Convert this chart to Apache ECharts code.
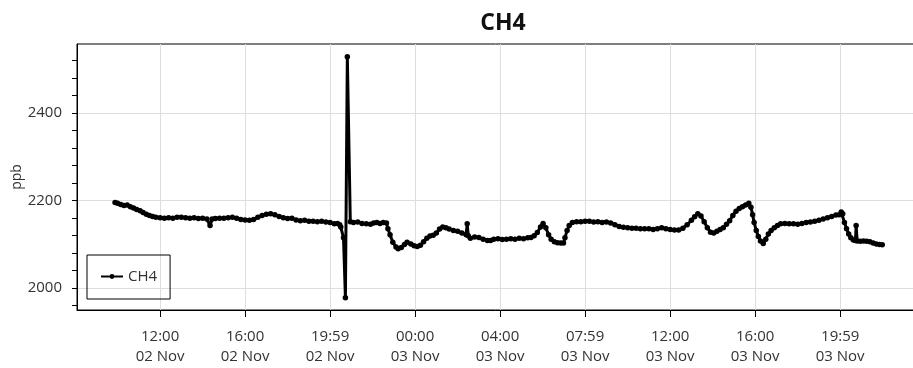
<!DOCTYPE html>
<html>
<head>
<meta charset="utf-8">
<title>CH4</title>
<script src="https://cdn.jsdelivr.net/npm/echarts@6/dist/echarts.min.js"></script>
<style>
  html, body { margin: 0; padding: 0; background: #fff; }
  #chart { width: 913px; height: 368px; }
</style>
</head>
<body>
<div id="chart"></div>
<script>
// Sample times, hours counted from 02 Nov 00:00
const hours = [
  9.88, 10.0, 10.15, 10.3, 10.45, 10.6, 10.75, 10.9, 11.06, 11.2, 11.35, 11.5, 11.65, 11.8, 12.0,
  12.2, 12.4, 12.6, 12.8, 13.0, 13.2, 13.4, 13.6, 13.8, 14.0, 14.2, 14.35, 14.45, 14.6, 14.8,
  15.0, 15.2, 15.4, 15.6, 15.8, 16.0, 16.2, 16.4, 16.6, 16.8, 17.0, 17.2, 17.4, 17.6, 17.8,
  18.0, 18.2, 18.4, 18.6, 18.8, 19.0, 19.2, 19.4, 19.6, 19.8, 20.0, 20.2, 20.35, 20.45, 20.5,
  20.63, 20.72, 20.81, 20.95, 21.1, 21.3, 21.5, 21.7, 21.9, 22.05, 22.2, 22.35, 22.5, 22.65,
  22.72, 22.82, 22.95, 23.1, 23.2, 23.35, 23.5, 23.62, 23.8, 23.95, 24.1, 24.25, 24.4, 24.55,
  24.7, 24.85, 25.0, 25.15, 25.3, 25.45, 25.6, 25.8, 26.0, 26.2, 26.4, 26.45, 26.5, 26.6,
  26.8, 27.0, 27.2, 27.4, 27.55, 27.7, 27.9, 28.1, 28.3, 28.5, 28.7, 28.9, 29.1, 29.3, 29.45,
  29.6, 29.75, 29.9, 30.02, 30.15, 30.28, 30.4, 30.55, 30.7, 30.85, 30.98, 31.05, 31.15, 31.25,
  31.4, 31.6, 31.8, 32.0, 32.2, 32.4, 32.6, 32.8, 33.0, 33.2, 33.4, 33.6, 33.8, 34.0, 34.2,
  34.4, 34.6, 34.8, 35.0, 35.2, 35.4, 35.6, 35.8, 36.0, 36.2, 36.4, 36.6, 36.8, 37.0, 37.15,
  37.3, 37.45, 37.6, 37.75, 37.9, 38.05, 38.2, 38.35, 38.5, 38.65, 38.8, 38.95, 39.1, 39.25,
  39.4, 39.55, 39.7, 39.8, 39.88, 39.95, 40.05, 40.15, 40.25, 40.38, 40.5, 40.62, 40.75, 40.9,
  41.05, 41.2, 41.4, 41.6, 41.8, 42.0, 42.2, 42.4, 42.6, 42.8, 43.0, 43.2, 43.4, 43.6, 43.8,
  43.95, 44.05, 44.12, 44.2, 44.3, 44.4, 44.5, 44.62, 44.72, 44.75, 44.8, 44.95, 45.1, 45.25,
  45.4, 45.55, 45.7, 45.85, 45.98
];

// CH4 mixing ratio, ppb
const ch4 = [
  2196, 2194, 2191, 2189, 2190, 2186, 2183, 2180, 2177, 2173, 2169, 2166, 2164, 2162, 2161,
  2160, 2161, 2160, 2162, 2162, 2161, 2160, 2161, 2159, 2160, 2158, 2143, 2158, 2159, 2160,
  2160, 2161, 2162, 2160, 2157, 2156, 2155, 2157, 2162, 2166, 2169, 2170, 2168, 2164, 2161,
  2159, 2160, 2156, 2154, 2155, 2153, 2153, 2152, 2153, 2151, 2150, 2147, 2148, 2145, 2140,
  2115, 1978, 2529, 2152, 2150, 2151, 2148, 2147, 2146, 2149, 2150, 2148, 2150, 2149,
  2136, 2122, 2105, 2094, 2090, 2093, 2100, 2105, 2101, 2097, 2095, 2098, 2106, 2114,
  2119, 2121, 2126, 2135, 2140, 2138, 2135, 2132, 2130, 2126, 2122, 2147, 2120, 2114,
  2117, 2116, 2112, 2109, 2109, 2112, 2113, 2111, 2112, 2113, 2112, 2114, 2113, 2115, 2116,
  2120, 2127, 2140, 2148, 2138, 2122, 2112, 2106, 2104, 2103, 2103, 2115, 2132, 2143,
  2150, 2152, 2152, 2153, 2153, 2151, 2152, 2150, 2151, 2149, 2145, 2141, 2139, 2138, 2137,
  2137, 2136, 2136, 2136, 2134, 2136, 2138, 2136, 2134, 2133, 2133, 2137, 2145, 2155, 2163,
  2170, 2165, 2152, 2138, 2128, 2126, 2130, 2134, 2138, 2146, 2154, 2166, 2176, 2182,
  2186, 2190, 2194, 2185, 2168, 2150, 2132, 2118, 2108, 2102, 2112, 2124, 2132, 2138,
  2143, 2147, 2148, 2147, 2147, 2146, 2148, 2150, 2151, 2153, 2155, 2158, 2161, 2164, 2167,
  2168, 2174, 2170, 2150, 2136, 2124, 2115, 2110, 2109, 2143, 2108, 2107, 2108, 2107,
  2106, 2103, 2101, 2100, 2099
];

// Time axis ticks (hours) and their two-line labels
const xTicks = [12, 16, 20, 24, 28, 32, 36, 40, 44];
const xTickLabels = [
  '12:00\n02 Nov', '16:00\n02 Nov', '19:59\n02 Nov',
  '00:00\n03 Nov', '04:00\n03 Nov', '07:59\n03 Nov',
  '12:00\n03 Nov', '16:00\n03 Nov', '19:59\n03 Nov'
];

// Value axis: labelled ticks and the finer tick marks
const yTickLabels = [2000, 2200, 2400];
const yMinorTicks = [1960, 2000, 2040, 2080, 2120, 2160, 2200, 2240, 2280, 2320, 2360, 2400, 2440, 2480, 2520];

const FONT = '"Open Sans", "Noto Sans", sans-serif';
const Y_MIN = 1950, Y_MAX = 2558;
const chart = echarts.init(document.getElementById('chart'), null, { renderer: 'canvas' });

chart.setOption({
  animation: false,
  backgroundColor: '#ffffff',
  title: {
    text: 'CH4',
    left: 498,
    top: 7,
    textAlign: 'center',
    textStyle: { fontFamily: FONT, fontSize: 23, fontWeight: 'bold', color: '#111' }
  },
  // unit label beside the value axis
  graphic: [{
    type: 'text',
    x: 17,
    y: 177,
    rotation: Math.PI / 2,
    style: {
      text: 'ppb',
      fontFamily: FONT,
      fontSize: 14,
      fill: '#333',
      align: 'center',
      verticalAlign: 'middle'
    }
  }],
  legend: {
    left: 87,
    top: 255,
    orient: 'vertical',
    padding: [14, 13, 15, 13],
    borderColor: '#000',
    borderWidth: 1,
    itemWidth: 22,
    itemHeight: 6,
    itemGap: 5,
    textStyle: { fontFamily: FONT, fontSize: 15, color: '#333' },
    data: ['CH4']
  },
  grid: {
    left: 77,
    top: 44,
    width: 845,
    bottom: 58,
    outerBoundsMode: 'none',
    containLabel: false,
    show: true,
    backgroundColor: '#fff',
    borderColor: '#000',
    borderWidth: 1
  },
  xAxis: {
    type: 'value',
    min: 8.09,
    max: 47.85,
    axisLine: { show: true, lineStyle: { color: '#000', width: 1 } },
    axisTick: {
      show: true, length: 7, inside: false, customValues: xTicks,
      lineStyle: { color: '#000' }
    },
    axisLabel: {
      customValues: xTicks,
      margin: 17,
      fontFamily: FONT,
      fontSize: 15,
      lineHeight: 20,
      color: '#333',
      formatter: v => {
        const i = xTicks.indexOf(Math.round(v));
        return i >= 0 ? xTickLabels[i] : '';
      }
    },
    splitLine: { show: true, lineStyle: { color: '#dedede', width: 1 } }
  },
  yAxis: [{
    type: 'value',
    min: Y_MIN,
    max: Y_MAX,
    axisLine: { show: true, lineStyle: { color: '#000', width: 1 } },
    axisTick: { show: false, customValues: yTickLabels },
    axisLabel: {
      customValues: yTickLabels,
      margin: 15,
      fontFamily: FONT,
      fontSize: 15,
      color: '#333',
      formatter: v => String(v)
    },
    splitLine: { show: true, lineStyle: { color: '#dedede', width: 1 } }
  }, {
    // tick marks every 40 ppb along the left edge
    type: 'value',
    position: 'left',
    min: Y_MIN,
    max: Y_MAX,
    axisLine: { show: false },
    axisTick: {
      show: true, length: 5, inside: false, customValues: yMinorTicks,
      lineStyle: { color: '#000' }
    },
    axisLabel: { show: false },
    splitLine: { show: false }
  }],
  series: [{
    name: 'CH4',
    type: 'line',
    yAxisIndex: 0,
    data: hours.map((h, i) => [h, ch4[i]]),
    symbol: 'circle',
    symbolSize: 5.5,
    showSymbol: true,
    itemStyle: { color: '#000' },
    lineStyle: { color: '#000', width: 3 },
    z: 3
  }]
});
</script>
</body>
</html>
